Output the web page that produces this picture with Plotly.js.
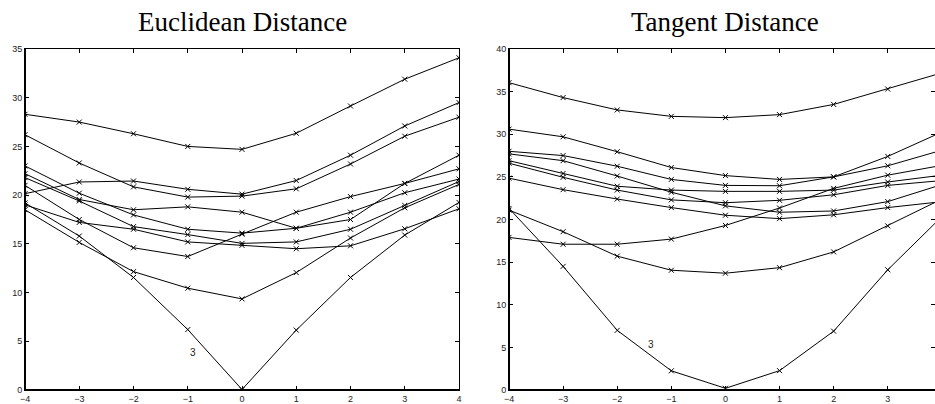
<!DOCTYPE html>
<html>
<head>
<meta charset="utf-8">
<script src="https://cdn.plot.ly/plotly-3.0.1.min.js"></script>
<style>html,body{margin:0;padding:0;background:#fff;}#chart{width:935px;height:404px;}</style>
</head>
<body>
<div id="chart"></div>
<script>
// Shift values (x axis), shared by both panels
const shifts = [-4, -3, -2, -1, 0, 1, 2, 3, 4];

// Euclidean distance curves
const euc1  = [28.3, 27.5, 26.3, 25.0, 24.7, 26.35, 29.15, 31.9, 34.1];
const euc2  = [26.2, 23.3, 20.85, 19.8, 19.9, 20.65, 23.2, 26.05, 28.0];
const euc3  = [20.15, 21.35, 21.45, 20.6, 20.1, 21.5, 24.1, 27.1, 29.5];
const euc4  = [22.2, 19.55, 18.5, 18.8, 18.25, 16.6, 18.25, 20.25, 21.65];
const euc5  = [23.0, 20.2, 17.97, 16.5, 16.1, 16.6, 17.5, 21.2, 24.1];
const euc6  = [21.8, 19.4, 16.77, 15.95, 15.05, 15.2, 16.5, 18.95, 21.4];
const euc7  = [19.0, 17.2, 16.5, 15.2, 14.85, 14.5, 14.8, 16.55, 18.6];
const euc8  = [21.0, 17.5, 14.6, 13.7, 16.0, 18.25, 19.85, 21.2, 22.7];
const euc9  = [18.5, 15.15, 12.15, 10.45, 9.35, 12.05, 15.6, 18.7, 21.1];
const euc10 = [19.2, 15.8, 11.55, 6.2, 0.05, 6.15, 11.55, 15.9, 19.25];

// Tangent distance curves
const tan1  = [36.05, 34.3, 32.85, 32.1, 31.95, 32.3, 33.5, 35.3, 37.2];
const tan2  = [30.6, 29.7, 27.95, 26.1, 25.15, 24.7, 25.0, 27.4, 30.26];
const tan3  = [28.0, 27.5, 26.25, 24.7, 24.0, 23.96, 25.0, 26.3, 28.13];
const tan4  = [27.7, 26.9, 25.1, 23.2, 21.6, 20.85, 21.0, 22.1, 24.1];
const tan5  = [26.9, 25.4, 23.9, 23.45, 23.3, 23.3, 23.45, 24.4, 25.2];
const tan6  = [26.6, 24.95, 23.45, 22.3, 21.97, 22.25, 22.9, 24.0, 24.57];
const tan7  = [24.85, 23.5, 22.4, 21.4, 20.5, 20.1, 20.55, 21.4, 22.09];
const tan8  = [17.9, 17.1, 17.1, 17.7, 19.3, 21.35, 23.65, 25.2, 26.35];
const tan9  = [21.1, 18.57, 15.7, 14.05, 13.7, 14.35, 16.2, 19.25, 22.4];
const tan10 = [21.3, 14.5, 7.0, 2.25, 0.2, 2.27, 6.9, 14.1, 20.34];

const eucSeries = [euc1, euc2, euc3, euc4, euc5, euc6, euc7, euc8, euc9, euc10];
const tanSeries = [tan1, tan2, tan3, tan4, tan5, tan6, tan7, tan8, tan9, tan10];

const panelTitles = ["Euclidean Distance", "Tangent Distance"];
const labelText = "3";
const labelEuc = [-0.9, 3.8];
const labelTan = [-1.38, 5.3];

function mk(ys, xa, ya) {
  return {
    x: shifts, y: ys, xaxis: xa, yaxis: ya, type: 'scatter', mode: 'lines+markers',
    line: {color: '#000', width: 1},
    marker: {symbol: 'x-thin', size: 5, line: {color: '#000', width: 1}, color: '#000'},
    showlegend: false, hoverinfo: 'skip', cliponaxis: true
  };
}
const data = [];
eucSeries.forEach(s => data.push(mk(s, 'x', 'y')));
tanSeries.forEach(s => data.push(mk(s, 'x2', 'y2')));

const W = 935, H = 404;
const yDom = [(H - 390) / H, (H - 49) / H];
const tickFont = {family: 'Liberation Sans, Arial, sans-serif', size: 9, color: '#222'};
const axBase = {
  showline: true, linecolor: '#000', linewidth: 1, mirror: 'ticks',
  ticks: 'inside', ticklen: 4, tickwidth: 1, tickcolor: '#000',
  showgrid: false, zeroline: false, tickfont: tickFont, fixedrange: true
};

const layout = {
  width: W, height: H,
  margin: {l: 0, r: 0, t: 0, b: 0},
  paper_bgcolor: '#fff', plot_bgcolor: '#fff',
  xaxis: Object.assign({}, axBase, {domain: [25 / W, 459 / W], range: [-4, 4], dtick: 1, tick0: 0, anchor: 'y'}),
  yaxis: Object.assign({}, axBase, {domain: yDom, range: [0, 35], dtick: 5, tick0: 0, anchor: 'x'}),
  xaxis2: Object.assign({}, axBase, {domain: [509 / W, 1], range: [-4, 3.873], dtick: 1, tick0: 0, anchor: 'y2'}),
  yaxis2: Object.assign({}, axBase, {domain: yDom, range: [0, 40], dtick: 5, tick0: 0, anchor: 'x2'}),
  annotations: [
    {text: panelTitles[0], xref: 'paper', yref: 'paper', x: 242 / W, y: (H - 22) / H, showarrow: false,
     xanchor: 'center', yanchor: 'middle', font: {family: 'Liberation Serif, Times New Roman, serif', size: 27, color: '#000'}},
    {text: panelTitles[1], xref: 'paper', yref: 'paper', x: 725 / W, y: (H - 22) / H, showarrow: false,
     xanchor: 'center', yanchor: 'middle', font: {family: 'Liberation Serif, Times New Roman, serif', size: 27, color: '#000'}},
    {text: labelText, xref: 'x', yref: 'y', x: labelEuc[0], y: labelEuc[1], showarrow: false,
     font: {family: 'Liberation Sans, Arial, sans-serif', size: 10, color: '#222'}},
    {text: labelText, xref: 'x2', yref: 'y2', x: labelTan[0], y: labelTan[1], showarrow: false,
     font: {family: 'Liberation Sans, Arial, sans-serif', size: 10, color: '#222'}}
  ],
  shapes: [
    {type: 'line', xref: 'x domain', yref: 'y domain', x0: 0, x1: 1, y0: 0, y1: 0, line: {color: '#000', width: 2}},
    {type: 'line', xref: 'x domain', yref: 'y domain', x0: 0, x1: 0, y0: 0, y1: 1, line: {color: '#000', width: 2}},
    {type: 'line', xref: 'x2 domain', yref: 'y2 domain', x0: 0, x1: 1, y0: 0, y1: 0, line: {color: '#000', width: 2}},
    {type: 'line', xref: 'x2 domain', yref: 'y2 domain', x0: 0, x1: 0, y0: 0, y1: 1, line: {color: '#000', width: 2}}
  ]
};

Plotly.newPlot('chart', data, layout, {staticPlot: true, displayModeBar: false});
</script>
</body>
</html>
